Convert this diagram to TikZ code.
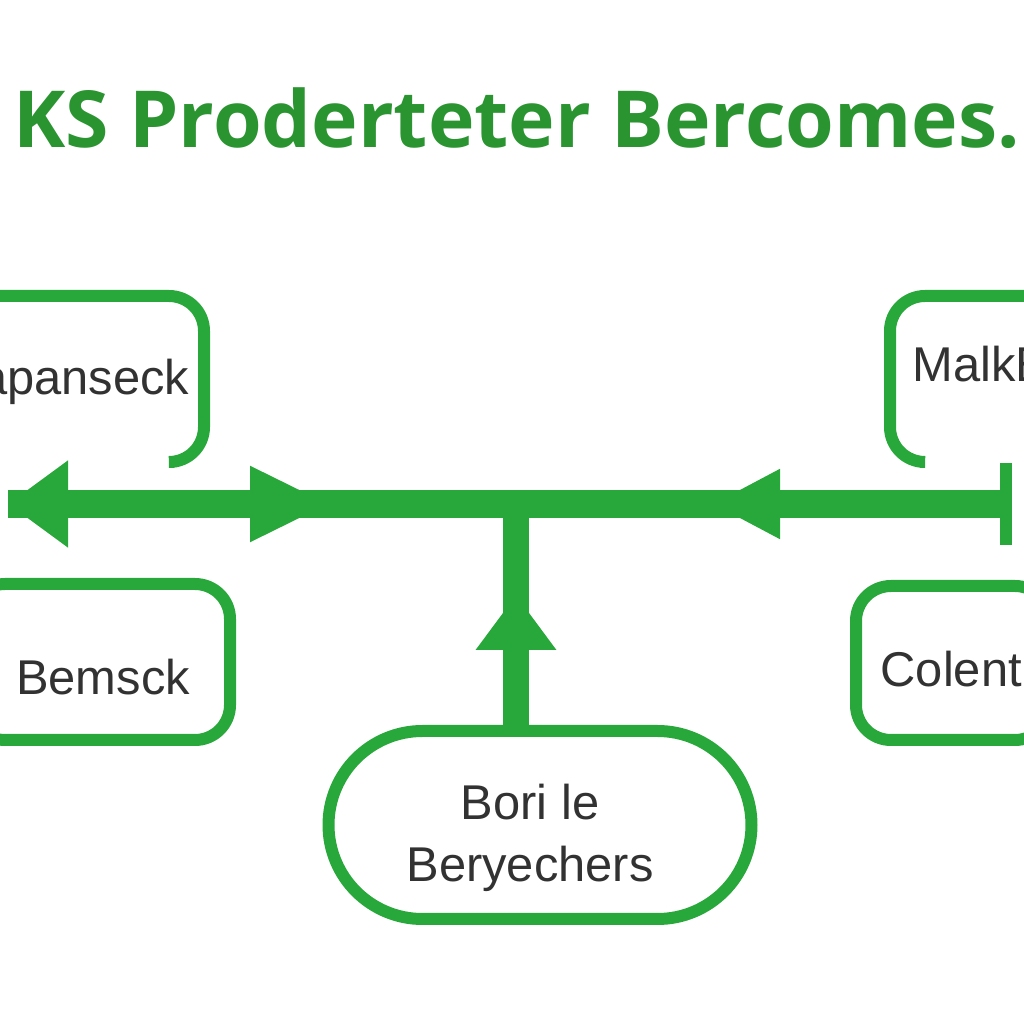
\documentclass[tikz,border=0pt]{standalone}
\usepackage{fontspec}
\setmainfont{Liberation Sans}
\newfontfamily\titlefont{Open Sans}
\usepackage{xcolor}
\usetikzlibrary{arrows.meta,positioning}
\definecolor{linegreen}{RGB}{40,168,58}
\definecolor{titlegreen}{RGB}{42,148,48}
\definecolor{labelgray}{RGB}{50,50,50}

\begin{document}
\begin{tikzpicture}[x=1cm,y=1cm,
 frame/.style={draw=linegreen,line width=1.2mm,rounded corners=3.5mm},
 bar/.style={draw=linegreen,line width=2.8mm},
 lbl/.style={text=labelgray,font=\fontsize{13.9}{17.6}\selectfont,inner sep=0pt},
 head/.style={text=titlegreen,font=\titlefont\bfseries\fontsize{22.4}{26}\selectfont,inner sep=0pt}]
 \useasboundingbox (0,0) rectangle (10.24,10.24);
 \clip (0,0) rectangle (10.24,10.24);
 \node[head,anchor=base] (title) at (5.165,8.76) {KS Proderteter Bercomes.};
 % side boxes, partly outside the page
 \draw[frame] (-0.3,7.28) -| (2.04,5.62) -- (1.74,5.62);
 \draw[frame] (10.5,7.28) -| (8.90,5.62) -- (9.20,5.62);
 \draw[frame] (-0.3,2.84) rectangle (2.30,4.40);
 \draw[frame] (8.56,2.84) rectangle (10.5,4.38);
 \node[lbl,anchor=base east] (tl) at (1.90,6.29) {apanseck};
 \node[lbl,anchor=base west] (tr) at (9.12,6.42) {MalkE};
 \node[lbl,anchor=base] (bl) at (1.03,3.29) {Bemsck};
 \node[lbl,anchor=base west] (br) at (8.80,3.37) {Colentu};
 \node[frame,rounded corners=9.4mm,minimum width=4.23cm,minimum height=1.88cm] (bottom) at (5.40,1.99) {};
 \node[lbl,align=center] (bottomtext) at (5.30,1.86) {Bori le\\Beryechers};
 % the bar and its arrows
 \coordinate (lend) at (0.08,5.20);
 \coordinate (rend) at (10.12,5.20);
 \coordinate (ra) at (3.30,5.20);
 \coordinate (la) at (7.12,5.20);
 \coordinate (jn) at (5.16,5.20);
 \coordinate (ua) at (5.16,4.29);
 \draw[bar,{Triangle[length=6mm,width=8.3mm]}-{Bar[width=8.2mm,line width=1.2mm]}] (lend) -- (rend);
 \draw[bar,-{Triangle[length=8mm,width=7mm]}] (lend) -- (ra);
 \draw[bar,-{Triangle[length=6.8mm,width=6.5mm]}] (rend) -- (la);
 \draw[bar,line width=2.6mm] (jn |- bottom.north) -- (jn);
 \draw[bar,line width=2.6mm,-{Triangle[length=5.5mm,width=7.7mm]}] (jn |- bottom.north) -- (ua);
\end{tikzpicture}
\end{document}
